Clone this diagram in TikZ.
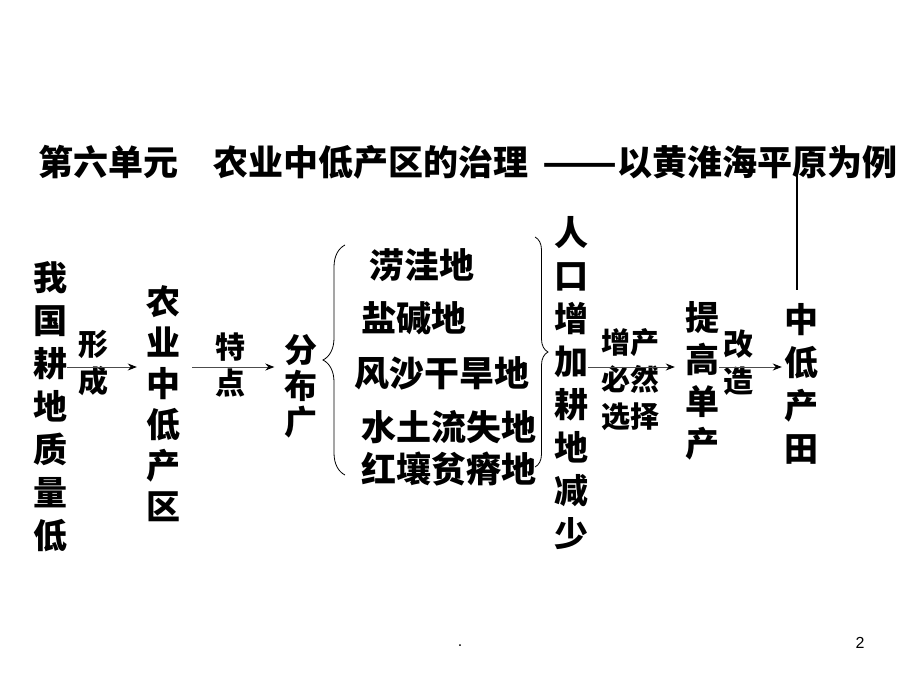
\documentclass[tikz,border=0pt]{standalone}
\usepackage{fontspec}
\newfontfamily\cjk{Noto Sans CJK SC Black}
\newfontfamily\footfont{Liberation Sans}
\usetikzlibrary{decorations.pathreplacing,arrows.meta}
\tikzset{
  bigcol/.style={align=center, inner sep=0, font=\cjk\fontsize{34}{43}\selectfont},
  lbl/.style={align=center, inner sep=0, font=\cjk\fontsize{30}{37}\selectfont},
  item/.style={anchor=west, inner sep=0, font=\cjk\fontsize{35}{40}\selectfont},
  arr/.style={draw=black!70, line width=0.9pt, -{Stealth[length=9pt,width=7pt,black]}},
  brc/.style={decorate, decoration={brace}, line width=0.8pt}
}
\begin{document}
\begin{tikzpicture}[x=1pt,y=-1pt]
  \useasboundingbox (0,0) rectangle (920,690);

  \node[anchor=base west, inner sep=0, font=\cjk\fontsize{35}{40}\selectfont] (title) at (38,175)
    {第六单元\hspace{1em}农业中低产区的治理\hspace{0.4em}\scalebox{1.25}[1]{——}以黄淮海平原为例};

  \node[bigcol] (soil) at (50,407) {我\\国\\耕\\地\\质\\量\\低};
  \node[bigcol, font=\cjk\fontsize{34}{41}\selectfont] (zone) at (163,404) {农\\业\\中\\低\\产\\区};
  \node[bigcol, font=\cjk\fontsize{33}{36}\selectfont] (wide) at (301,386) {分\\布\\广};
  \node[bigcol] (people) at (571,383) {人\\口\\增\\加\\耕\\地\\减\\少};
  \node[bigcol, font=\cjk\fontsize{34}{42}\selectfont] (yield) at (702,381) {提\\高\\单\\产};
  \node[bigcol] (field) at (801,384) {中\\低\\产\\田};

  \node[lbl] (form) at (93,363) {形\\成};
  \node[lbl, font=\cjk\fontsize{30}{36}\selectfont] (trait) at (230,365) {特\\点};
  \node[lbl, font=\cjk\fontsize{29}{37}\selectfont] (must) at (630,380) {增产\\必然\\选择};
  \node[lbl] (fix) at (738,363) {改\\造};

  \node[item] (wet) at (369,265) {涝洼地};
  \node[item] (salt) at (361,318) {盐碱地};
  \node[item] (sand) at (354,373) {风沙干旱地};
  \node[item] (loss) at (361,427) {水土流失地};
  \node[item] (red) at (361,469) {红壤贫瘠地};

  \coordinate (lvl) at (0,367);
  \draw[arr, shorten >=9pt] (soil.east |- lvl) -- (zone.west |- lvl);
  \draw[arr, shorten <=12pt, shorten >=10pt] (zone.east |- lvl) -- (wide.west |- lvl);
  \draw[arr, shorten >=10pt] (people.east |- lvl) -- (yield.west |- lvl);
  \draw[arr, shorten >=2pt] (yield.east |- lvl) -- (field.west |- lvl);

  \draw[brc, decoration={amplitude=22pt}] (345,475) -- (345,245);
  \draw[brc, decoration={amplitude=13pt}] (535,237) -- (535,467);

  \coordinate (top) at (797,150);
  \coordinate (bot) at (797,290);
  \draw[line width=1.6pt] (top) -- (bot);

  \node[font=\footfont\fontsize{16}{18}\selectfont] (dot) at (460,646) {.};
  \node[font=\footfont\fontsize{16}{18}\selectfont] (page) at (860,643) {2};
\end{tikzpicture}
\end{document}
